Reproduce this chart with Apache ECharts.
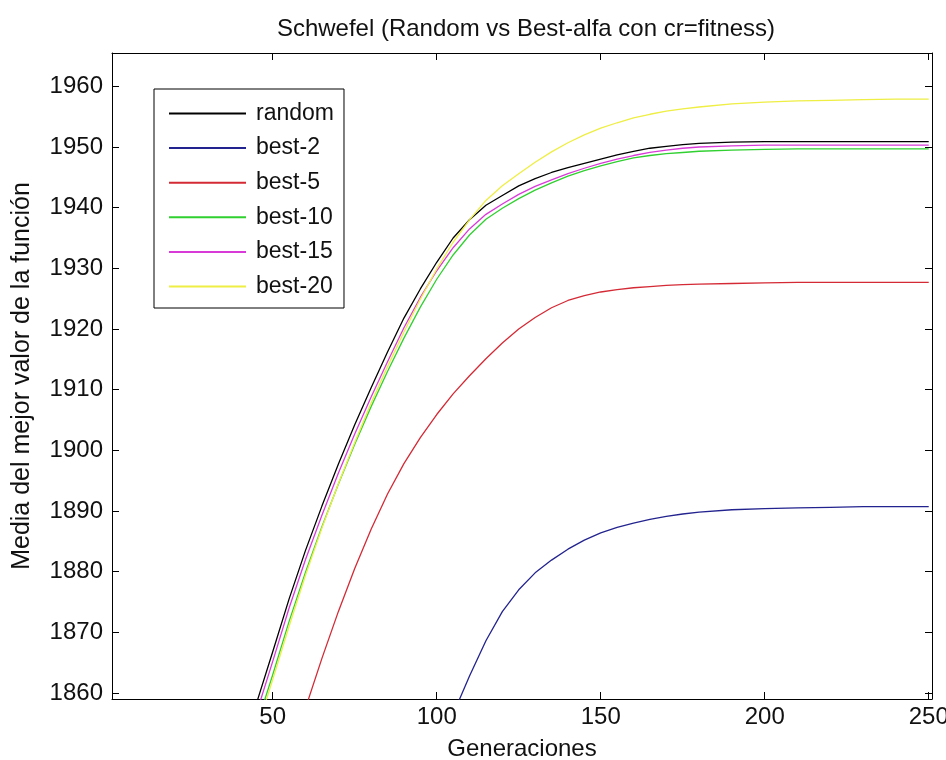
<!DOCTYPE html>
<html>
<head>
<meta charset="utf-8">
<script src="https://cdn.jsdelivr.net/npm/echarts@6/dist/echarts.min.js"></script>
<style>
  html, body { margin: 0; padding: 0; background: #ffffff; }
  #chart { width: 946px; height: 760px; }
</style>
</head>
<body>
<div id="chart"></div>
<script>
// Generations at which the averaged best value is sampled
const generations = [40, 45, 50, 55, 60, 65, 70, 75, 80, 85, 90, 95, 100, 105, 110, 115, 120, 125, 130, 135,
                     140, 145, 150, 155, 160, 165, 170, 175, 180, 190, 200, 210, 220, 230, 240, 250];

// Mean of the best function value per strategy
const randomVals = [1849, 1858.2, 1866.8, 1875.5, 1883.5, 1890.8, 1897.7, 1904.2, 1910.3, 1916.2, 1921.8, 1926.6, 1931.0, 1935.0, 1938.0, 1940.4, 1942.0, 1943.6, 1944.8, 1945.8,
                    1946.6, 1947.3, 1948.0, 1948.7, 1949.3, 1949.8, 1950.1, 1950.4, 1950.6, 1950.8, 1950.9, 1950.9, 1950.9, 1950.9, 1950.9, 1950.9];
const best2Vals = [null, null, null, null, null, null, null, null, null, null, null, null, 1849, 1856.5, 1862.8, 1868.6, 1873.4, 1877.0, 1879.8, 1881.9,
                   1883.7, 1885.2, 1886.4, 1887.3, 1888.0, 1888.6, 1889.1, 1889.5, 1889.8, 1890.2, 1890.4, 1890.5, 1890.6, 1890.7, 1890.7, 1890.7];
const best5Vals = [null, null, null, 1847, 1857.5, 1865.7, 1873.4, 1880.5, 1887.0, 1892.8, 1897.8, 1902.1, 1905.9, 1909.3, 1912.3, 1915.1, 1917.7, 1920.0, 1921.9, 1923.5,
                   1924.7, 1925.5, 1926.1, 1926.5, 1926.8, 1927.0, 1927.2, 1927.3, 1927.4, 1927.5, 1927.6, 1927.7, 1927.7, 1927.7, 1927.7, 1927.7];
const best10Vals = [1845.5, 1854.5, 1863.0, 1871.8, 1879.9, 1887.4, 1894.4, 1901.0, 1907.2, 1913.0, 1918.5, 1923.6, 1928.2, 1932.2, 1935.5, 1938.1, 1939.9, 1941.5, 1942.9, 1944.1,
                    1945.2, 1946.1, 1946.9, 1947.6, 1948.2, 1948.6, 1948.9, 1949.1, 1949.3, 1949.5, 1949.6, 1949.7, 1949.7, 1949.7, 1949.7, 1949.7];
const best15Vals = [1847.5, 1856.6, 1865.2, 1874.0, 1882.0, 1889.3, 1896.2, 1902.7, 1908.8, 1914.6, 1920.2, 1925.2, 1929.6, 1933.4, 1936.5, 1938.9, 1940.6, 1942.2, 1943.5, 1944.6,
                    1945.6, 1946.5, 1947.3, 1948.0, 1948.6, 1949.1, 1949.5, 1949.8, 1950.0, 1950.2, 1950.3, 1950.3, 1950.3, 1950.3, 1950.3, 1950.3];
const best20Vals = [1844.5, 1853.6, 1862.2, 1871.0, 1879.4, 1887.2, 1894.5, 1901.3, 1907.8, 1913.8, 1919.5, 1924.9, 1929.9, 1934.3, 1938.0, 1941.2, 1943.6, 1945.6, 1947.5, 1949.2,
                    1950.7, 1952.0, 1953.1, 1954.0, 1954.8, 1955.4, 1955.9, 1956.3, 1956.6, 1957.1, 1957.4, 1957.6, 1957.7, 1957.8, 1957.9, 1957.9];

const seriesNames = ['random', 'best-2', 'best-5', 'best-10', 'best-15', 'best-20'];
const seriesValues = [randomVals, best2Vals, best5Vals, best10Vals, best15Vals, best20Vals];
const seriesColors = ['#000000', '#23238f', '#d42a35', '#2fd02f', '#d83ad8', '#eeee44'];

const xTicks = [50, 100, 150, 200, 250];
const yTicks = [1860, 1870, 1880, 1890, 1900, 1910, 1920, 1930, 1940, 1950, 1960];

const FONT = 'Liberation Sans, Arial, sans-serif';
const X_MIN = 1, X_MAX = 251, Y_MIN = 1859, Y_MAX = 1965.5;

function pairs(vals) {
  return generations.map((g, i) => [g, vals[i]]);
}

const chart = echarts.init(document.getElementById('chart'), null, { renderer: 'canvas' });

const boxAxisLine = { show: true, onZero: false, lineStyle: { color: '#000', width: 1 } };
const plainNumber = v => String(v);

chart.setOption({
  animation: false,
  backgroundColor: '#ffffff',
  title: {
    text: 'Schwefel (Random vs Best-alfa con cr=fitness)',
    left: 521,
    textAlign: 'center',
    top: 12,
    textStyle: { fontFamily: FONT, fontSize: 24, fontWeight: 'normal', color: '#111' }
  },
  legend: {
    orient: 'vertical',
    left: 154,
    top: 89,
    padding: [13, 10, 10, 14],
    itemWidth: 77,
    itemHeight: 22,
    itemGap: 11.6,
    borderColor: '#000',
    borderWidth: 1,
    borderRadius: 0,
    backgroundColor: '#ffffff',
    itemStyle: { opacity: 0 },
    data: seriesNames,
    textStyle: { fontFamily: FONT, fontSize: 23, color: '#111', padding: [0, 0, 0, 5] }
  },
  grid: { left: 112, right: 14, top: 53, bottom: 61, containLabel: false, outerBoundsMode: 'none' },
  xAxis: [
    {
      type: 'value', position: 'bottom', min: X_MIN, max: X_MAX,
      name: 'Generaciones', nameLocation: 'middle', nameGap: 38,
      nameTextStyle: { fontFamily: FONT, fontSize: 24, color: '#111' },
      axisLine: boxAxisLine,
      axisTick: { show: true, inside: true, length: 7, customValues: xTicks, lineStyle: { color: '#000' } },
      axisLabel: { show: true, margin: 6, customValues: xTicks, formatter: plainNumber, fontFamily: FONT, fontSize: 24, color: '#111' },
      splitLine: { show: false }
    },
    {
      type: 'value', position: 'top', min: X_MIN, max: X_MAX,
      axisLine: boxAxisLine,
      axisTick: { show: true, inside: true, length: 7, customValues: xTicks, lineStyle: { color: '#000' } },
      axisLabel: { show: false },
      splitLine: { show: false }
    }
  ],
  yAxis: [
    {
      type: 'value', position: 'left', min: Y_MIN, max: Y_MAX,
      name: 'Media del mejor valor de la función', nameLocation: 'middle', nameGap: 77, nameRotate: 90,
      nameTextStyle: { fontFamily: FONT, fontSize: 25, color: '#111' },
      axisLine: boxAxisLine,
      axisTick: { show: true, inside: true, length: 7, customValues: yTicks, lineStyle: { color: '#000' } },
      axisLabel: { show: true, margin: 9, customValues: yTicks, formatter: plainNumber, fontFamily: FONT, fontSize: 24, color: '#111' },
      splitLine: { show: false }
    },
    {
      type: 'value', position: 'right', min: Y_MIN, max: Y_MAX,
      axisLine: boxAxisLine,
      axisTick: { show: true, inside: true, length: 7, customValues: yTicks, lineStyle: { color: '#000' } },
      axisLabel: { show: false },
      splitLine: { show: false }
    }
  ],
  series: seriesNames.map((name, i) => ({
    name: name,
    type: 'line',
    xAxisIndex: 0,
    yAxisIndex: 0,
    data: pairs(seriesValues[i]),
    symbol: 'none',
    smooth: false,
    clip: true,
    connectNulls: false,
    color: seriesColors[i],
    lineStyle: { color: seriesColors[i], width: 1.3 },
    z: 2 + i
  }))
});
</script>
</body>
</html>
